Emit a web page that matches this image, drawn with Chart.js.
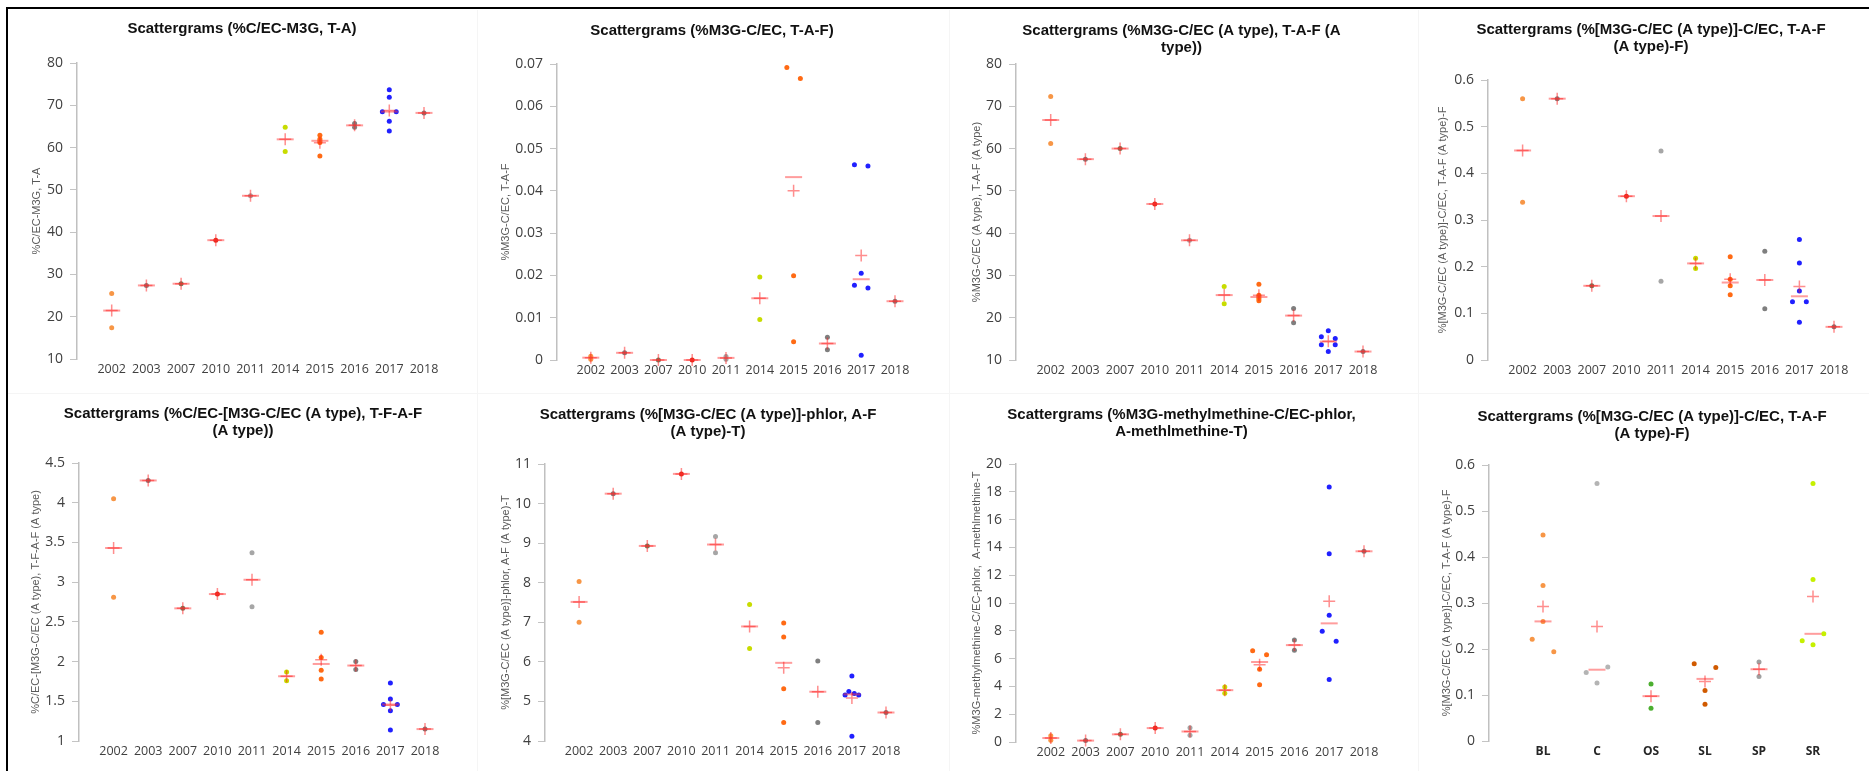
<!DOCTYPE html>
<html>
<head>
<meta charset="utf-8">
<title>Scattergrams</title>
<script src="https://cdn.jsdelivr.net/npm/chart.js@4.4.1/dist/chart.umd.min.js"></script>
<style>
  html, body { margin: 0; padding: 0; background: #fff; }
  #page { position: relative; width: 1869px; height: 771px; overflow: hidden; }
  #page canvas { position: absolute; }
  .frame { position: absolute; left: 6px; top: 7px; right: -4px; bottom: -4px; border-top: 2px solid #000; border-left: 2px solid #000; }
  .sep { position: absolute; background: #f5f5f5; }
</style>
</head>
<body>
<div id="page">
  <div class="sep" style="left:477px;top:10px;width:1px;height:761px"></div>
  <div class="sep" style="left:949px;top:10px;width:1px;height:761px"></div>
  <div class="sep" style="left:1418px;top:10px;width:1px;height:761px"></div>
  <div class="sep" style="left:8px;top:393px;width:1861px;height:1px"></div>
  <div class="frame"></div>
</div>
<script>
// categories
var years = ['2002', '2003', '2007', '2010', '2011', '2014', '2015', '2016', '2017', '2018'];
var species = ['BL', 'C', 'OS', 'SL', 'SP', 'SR'];

var yearColors = ['#f79646', '#7f7f7f', '#6f7f5f', '#e03020', '#a6a6a6', '#c8dc00', '#ff6a14', '#7f7f7f', '#2020ff', '#7f7f7f'];
var speciesColors = ['#f79646', '#b4b4b4', '#4caf30', '#d05a00', '#a0a0a0', '#c6f000'];

// values read per category (one list of samples per year / species)
var taValues = [[25.5, 17.4], [27.4], [27.8], [38.1], [48.6], [64.8, 59.1], [62.9, 62.0, 61.6, 61.2, 58.0],
  [65.7, 64.8], [73.7, 71.9, 68.5, 68.5, 66.2, 63.9], [68.2]];
var tafValues = [[0.0009, 0.0002], [0.0017], [0.0000], [0.0000], [0.0008, 0.0002], [0.0196, 0.0096],
  [0.0692, 0.0666, 0.0199, 0.0043], [0.0054, 0.0024], [0.0462, 0.0459, 0.0205, 0.0177, 0.0170, 0.0011], [0.0139]];
var tafAValues = [[72.3, 61.2], [57.5], [60.0], [46.9], [38.3], [27.4, 23.3], [27.9, 25.3, 24.9, 24.5, 24.0],
  [22.2, 18.8], [16.9, 15.5, 15.1, 13.6, 13.6, 12.0], [12.0]];
var tafAFValues = [[0.560, 0.338], [0.560], [0.159], [0.351], [0.448, 0.169], [0.218, 0.196],
  [0.221, 0.173, 0.159, 0.140], [0.233, 0.110], [0.258, 0.208, 0.148, 0.125, 0.125, 0.081], [0.071]];
var tfafValues = [[4.05, 2.81], [4.28], [2.67], [2.85], [3.37, 2.69], [1.87, 1.76], [2.37, 2.05, 1.89, 1.78],
  [2.00, 1.90], [1.73, 1.53, 1.46, 1.46, 1.38, 1.14], [1.15]];
var phlorValues = [[8.03, 7.00], [10.25], [8.93], [10.75], [9.17, 8.76], [7.45, 6.34], [6.98, 6.63, 5.32, 4.47],
  [6.02, 4.47], [5.64, 5.25, 5.16, 5.20, 5.16, 4.12], [4.72]];
var methylValues = [[0.45, 0.12], [0.10], [0.55], [1.00], [1.03, 0.48], [3.96, 3.50], [6.57, 6.28, 5.23, 4.12],
  [7.34, 6.60], [18.35, 13.55, 9.11, 7.96, 7.24, 4.50], [13.72]];
var speciesValues = [[0.448, 0.338, 0.260, 0.221, 0.194], [0.560, 0.161, 0.149, 0.126], [0.124, 0.071],
  [0.168, 0.160, 0.110, 0.080], [0.172, 0.140], [0.560, 0.351, 0.233, 0.218, 0.209]];

// side-by-side lanes for samples that overlap (missing = centre)
var taLanes = [[], [], [], [], [], [], [], [], [0, 0, -1, 1, 0, 0], []];
var tafLanes = [[], [], [], [], [], [], [-1, 1, 0, 0], [], [-1, 1, 0, -1, 1, 0], []];
var tafALanes = [[], [], [], [], [], [], [], [], [0, -1, 1, -1, 1, 0], []];
var tafAFLanes = [[], [], [], [], [], [], [], [], [0, 0, 0, -1, 1, 0], []];
var tfafLanes = [[], [], [], [], [], [], [], [], [0, 0, -1, 1, 0, 0], []];
var phlorLanes = [[], [], [], [], [], [], [], [], [0, -0.45, -1, 0.35, 1, 0], []];
var methylLanes = [[], [], [], [], [], [], [-1, 1, 0, 0], [], [0, 0, 0, -1, 1, 0], []];
var speciesLanes = [[0, 0, 0, -1, 1], [0, 1, -1, 0], [], [-1, 1, 0, 0], [], [0, 0, 1, -1, 0]];

var panels = [
  { cats: years, colors: yearColors, values: taValues, lanes: taLanes,
    title: 'Scattergrams (%C/EC-M3G, T-A)', yTitle: '%C/EC-M3G, T-A', yMin: 10, yMax: 80, yStep: 10,
    left: 9, top: 10, height: 375, axisX: 77, spacing: 34.7, chartTop: 63, chartBottom: 359, titleX: 242, titleY: 29, yTitleX: 37 },
  { cats: years, colors: yearColors, values: tafValues, lanes: tafLanes,
    title: 'Scattergrams (%M3G-C/EC, T-A-F)', yTitle: '%M3G-C/EC, T-A-F', yMin: 0, yMax: 0.07, yStep: 0.01,
    left: 474, top: 10, height: 375, axisX: 557, spacing: 33.8, chartTop: 64, chartBottom: 360, titleX: 712, titleY: 31, yTitleX: 506 },
  { cats: years, colors: yearColors, values: tafAValues, lanes: tafALanes,
    title: ['Scattergrams (%M3G-C/EC (A type), T-A-F (A', 'type))'], yTitle: '%M3G-C/EC (A type), T-A-F (A type)', yMin: 10, yMax: 80, yStep: 10,
    left: 941, top: 10, height: 375, axisX: 1016, spacing: 34.7, chartTop: 64, chartBottom: 360, titleX: 1181.5, titleY: 31, yTitleX: 977 },
  { cats: years, colors: yearColors, values: tafAFValues, lanes: tafAFLanes,
    title: ['Scattergrams (%[M3G-C/EC (A type)]-C/EC, T-A-F', '(A type)-F)'], yTitle: '%[M3G-C/EC (A type)]-C/EC, T-A-F (A type)-F', yMin: 0, yMax: 0.6, yStep: 0.1,
    left: 1410, top: 10, height: 375, axisX: 1488, spacing: 34.6, chartTop: 80, chartBottom: 360, titleX: 1651, titleY: 30, yTitleX: 1443 },
  { cats: years, colors: yearColors, values: tfafValues, lanes: tfafLanes,
    title: ['Scattergrams (%C/EC-[M3G-C/EC (A type), T-F-A-F', '(A type))'], yTitle: '%C/EC-[M3G-C/EC (A type), T-F-A-F (A type)', yMin: 1, yMax: 4.5, yStep: 0.5,
    left: 9, top: 386, height: 385, axisX: 79, spacing: 34.6, chartTop: 463, chartBottom: 741, titleX: 243, titleY: 414, yTitleX: 36 },
  { cats: years, colors: yearColors, values: phlorValues, lanes: phlorLanes,
    title: ['Scattergrams (%[M3G-C/EC (A type)]-phlor, A-F', '(A type)-T)'], yTitle: '%[M3G-C/EC (A type)]-phlor, A-F (A type)-T', yMin: 4, yMax: 11, yStep: 1,
    left: 474, top: 386, height: 385, axisX: 545, spacing: 34.1, chartTop: 464, chartBottom: 741, titleX: 708, titleY: 415, yTitleX: 506 },
  { cats: years, colors: yearColors, values: methylValues, lanes: methylLanes,
    title: ['Scattergrams (%M3G-methylmethine-C/EC-phlor,', 'A-methlmethine-T)'], yTitle: '%M3G-methylmethine-C/EC-phlor,  A-methlmethine-T', yMin: 0, yMax: 20, yStep: 2,
    left: 941, top: 386, height: 385, axisX: 1016, spacing: 34.8, chartTop: 464, chartBottom: 742, titleX: 1181.5, titleY: 415, yTitleX: 977 },
  { cats: species, colors: speciesColors, values: speciesValues, lanes: speciesLanes, boldCats: true,
    title: ['Scattergrams (%[M3G-C/EC (A type)]-C/EC, T-A-F', '(A type)-F)'], yTitle: '%[M3G-C/EC (A type)]-C/EC, T-A-F (A type)-F', yMin: 0, yMax: 0.6, yStep: 0.1,
    left: 1410, top: 386, height: 385, axisX: 1489, spacing: 54, chartTop: 465, chartBottom: 741, titleX: 1652, titleY: 417, yTitleX: 1447 }
];

function mean(a) {
  var s = 0;
  a.forEach(function(v) { s += v; });
  return s / a.length;
}

function median(a) {
  var b = a.slice().sort(function(p, q) { return p - q; });
  var m = Math.floor(b.length / 2);
  return b.length % 2 ? b[m] : (b[m - 1] + b[m]) / 2;
}

var TITLE_SIZE = 15;
var TITLE_LINE = TITLE_SIZE * 1.15;
var YTITLE_LINE = 11 * 1.2;
var LANE = 0.2;

function drawPanel(p) {
  var page = document.getElementById('page');
  var canvas = document.createElement('canvas');
  var width = Math.round(2 * (p.titleX - p.left));
  canvas.width = width;
  canvas.height = p.height;
  canvas.style.left = p.left + 'px';
  canvas.style.top = p.top + 'px';
  page.appendChild(canvas);

  var xMax = p.cats.length - 0.4;
  var yAxisWidth = p.axisX - p.left;
  // empty space right of the plot, taken by a blank axis so the title stays centred on the canvas
  var rightGap = width - yAxisWidth - (xMax + 1) * p.spacing;
  var lines = Array.isArray(p.title) ? p.title.length : 1;
  var titleTop = p.titleY - p.top - TITLE_LINE / 2;
  var titleBottom = (p.chartTop - p.top) - titleTop - lines * TITLE_LINE;
  var xAxisHeight = p.height - (p.chartBottom - p.top);

  var dots = [], dotColors = [];
  p.values.forEach(function(vals, i) {
    vals.forEach(function(v, j) {
      var lane = p.lanes[i][j] || 0;
      dots.push({ x: i + lane * LANE, y: v });
      dotColors.push(p.colors[i]);
    });
  });
  var means = p.values.map(function(vals, i) { return { x: i, y: mean(vals) }; });
  var medians = p.values.map(function(vals, i) { return { x: i, y: median(vals) }; });

  new Chart(canvas, {
    type: 'scatter',
    data: {
      datasets: [{
        label: 'Mean',
        data: means,
        pointStyle: 'cross',
        pointRadius: 6,
        borderColor: 'rgba(255, 30, 30, 0.5)',
        borderWidth: 1.5,
        clip: false
      }, {
        label: 'Median',
        data: medians,
        pointStyle: 'line',
        pointRadius: 8.5,
        borderColor: 'rgba(255, 60, 60, 0.5)',
        borderWidth: 2,
        clip: false
      }, {
        label: 'Samples',
        data: dots,
        pointRadius: 2.5,
        backgroundColor: dotColors,
        borderWidth: 0,
        clip: false
      }]
    },
    options: {
      responsive: false,
      animation: false,
      events: [],
      layout: { padding: 0 },
      plugins: {
        legend: { display: false },
        tooltip: { enabled: false },
        title: {
          display: true,
          text: p.title,
          color: '#111',
          font: { family: "'Liberation Sans', Arial, sans-serif", size: TITLE_SIZE, weight: 'bold', lineHeight: 1.15 },
          padding: { top: titleTop, bottom: titleBottom }
        }
      },
      scales: {
        x: {
          type: 'linear',
          min: -1,
          max: xMax,
          afterBuildTicks: function(scale) {
            scale.ticks = p.cats.map(function(c, i) { return { value: i }; });
          },
          afterFit: function(scale) { scale.height = xAxisHeight; },
          ticks: {
            autoSkip: false,
            maxRotation: 0,
            padding: 3,
            color: p.boldCats ? '#262626' : '#404040',
            font: { family: "'Open Sans', sans-serif", size: p.boldCats ? 12 : 12.5, weight: p.boldCats ? 'bold' : 'normal' },
            callback: function(value) { return p.cats[value]; }
          },
          grid: { display: false, drawTicks: false },
          border: { display: false }
        },
        y: {
          min: p.yMin,
          max: p.yMax,
          afterFit: function(scale) { scale.width = yAxisWidth; },
          ticks: {
            stepSize: p.yStep,
            padding: 7,
            color: '#404040',
            font: { family: "'Open Sans', sans-serif", size: 14 },
            callback: function(value) { return String(parseFloat(value.toFixed(4))); }
          },
          grid: { display: true, drawOnChartArea: false, drawTicks: true, tickLength: 7, color: '#c4c4c4', lineWidth: 1 },
          border: { display: true, color: '#c0c0c0', width: 1.5 },
          title: {
            display: true,
            text: p.yTitle,
            color: '#595959',
            font: { family: "'Liberation Sans', Arial, sans-serif", size: 11, lineHeight: 1.2 },
            padding: { top: p.yTitleX - p.left - YTITLE_LINE / 2, bottom: 0 }
          }
        },
        gap: {
          type: 'linear',
          position: 'right',
          afterFit: function(scale) { scale.width = rightGap; },
          ticks: { display: false },
          grid: { display: false, drawTicks: false },
          border: { display: false }
        }
      }
    }
  });
}

panels.forEach(drawPanel);
</script>
</body>
</html>
